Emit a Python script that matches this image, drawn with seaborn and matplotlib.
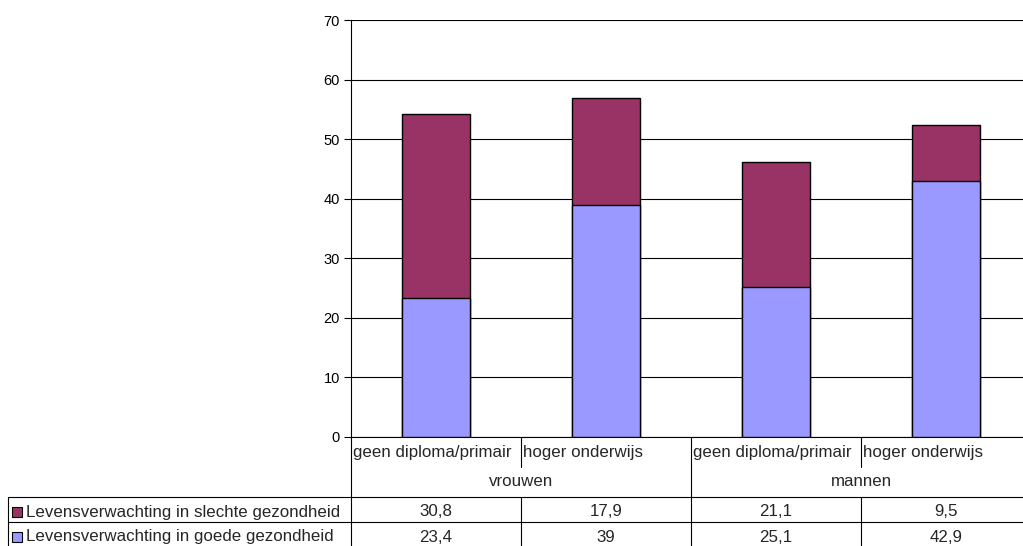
import matplotlib
matplotlib.use("Agg")
import matplotlib.pyplot as plt
import matplotlib.transforms as mtransforms
import pandas as pd
import seaborn as sns

# data
geslacht = ["vrouwen", "vrouwen", "mannen", "mannen"]
opleiding = ["geen diploma/primair", "hoger onderwijs", "geen diploma/primair", "hoger onderwijs"]
slechte = [30.8, 17.9, 21.1, 9.5]
goede = [23.4, 39, 25.1, 42.9]
series_names = ["Levensverwachting in slechte gezondheid", "Levensverwachting in goede gezondheid"]
series_colors = ["#993366", "#9999FF"]

df = pd.DataFrame({"geslacht": geslacht, "opleiding": opleiding,
                   "slechte": slechte, "goede": goede})
df["key"] = df["geslacht"] + "|" + df["opleiding"]
df["totaal"] = df["slechte"] + df["goede"]

sns.set_style("white")
plt.rcParams["font.family"] = ["Liberation Sans", "DejaVu Sans"]
plt.rcParams["font.size"] = 10

W, H = 1023, 546
TFS = 12.2  # table text size
fig = plt.figure(figsize=(W / 100, H / 100), dpi=100)
# plot area runs a bit past the right edge (chart is cropped in the original)
ax = fig.add_axes([351 / W, 1 - 437 / H, (1031 - 351) / W, (437 - 20) / H])

# stacked bars: total first, then the lower part on top of it
sns.barplot(data=df, x="key", y="totaal", order=df["key"], color=series_colors[0],
            width=0.4, edgecolor="black", linewidth=1, saturation=1, ax=ax, zorder=3)
sns.barplot(data=df, x="key", y="goede", order=df["key"], color=series_colors[1],
            width=0.4, edgecolor="black", linewidth=1, saturation=1, ax=ax, zorder=4)

ax.set_xlim(-0.5, 3.5)
ax.set_ylim(0, 70)
ax.set_yticks(range(0, 71, 10))
ax.yaxis.grid(True, color="black", linewidth=0.8, zorder=0)
ax.set_axisbelow(True)
ax.set_xticks([])
ax.set_xlabel("")
ax.set_ylabel("")
for s in ["top", "right"]:
    ax.spines[s].set_visible(False)
ax.spines["left"].set_color("black")
ax.spines["bottom"].set_color("black")
ax.tick_params(axis="y", left=True, length=5, width=0.8, color="black", pad=3,
               labelsize=10.5, labelcolor="black")

# overlay in pixel coords for the data table underneath
ov = fig.add_axes([0, 0, 1, 1])
ov.set_xlim(0, W)
ov.set_ylim(H, 0)
ov.axis("off")
ov.patch.set_alpha(0)
bt = mtransforms.blended_transform_factory(ax.transData, ov.transData)

lc = dict(color="black", linewidth=0.8)
y_row1, y_row2, y_d1, y_d2 = 437, 467, 497, 522
ov.plot([8, W], [y_d1, y_d1], **lc)
ov.plot([8, W], [y_d2, y_d2], **lc)
ov.plot([8, 8], [y_d1, H], **lc)
ov.plot([351, 351], [y_row1, H], **lc)

yh1, yh2 = 453, 482
yc1, yc2 = 512, 537
n = len(df)
for i in range(n):
    left = i - 0.5
    if i > 0:
        if geslacht[i] != geslacht[i - 1]:
            ov.plot([left, left], [y_row1, H], transform=bt, **lc)
        else:
            ov.plot([left, left], [y_row1, y_row2], transform=bt, **lc)
            ov.plot([left, left], [y_d1, H], transform=bt, **lc)
    ov.text(left + 0.012, yh1, opleiding[i], transform=bt,
            ha="left", va="center", fontsize=TFS)
    ov.text(i, yc1, f"{slechte[i]:g}".replace(".", ","), transform=bt,
            ha="center", va="center", fontsize=TFS)
    ov.text(i, yc2, f"{goede[i]:g}".replace(".", ","), transform=bt,
            ha="center", va="center", fontsize=TFS)

# group labels
for g in dict.fromkeys(geslacht):
    idx = [i for i, v in enumerate(geslacht) if v == g]
    ov.text((idx[0] + idx[-1]) / 2, yh2, g, transform=bt,
            ha="center", va="center", fontsize=TFS)

# row headers with legend keys
for name, col, yc in zip(series_names, series_colors, [yc1, yc2]):
    ov.add_patch(plt.Rectangle((12, yc - 5), 10, 10, facecolor=col, edgecolor="black", linewidth=0.8))
    ov.text(26, yc, name, ha="left", va="center", fontsize=TFS)

fig.savefig("out.png", dpi=100)
